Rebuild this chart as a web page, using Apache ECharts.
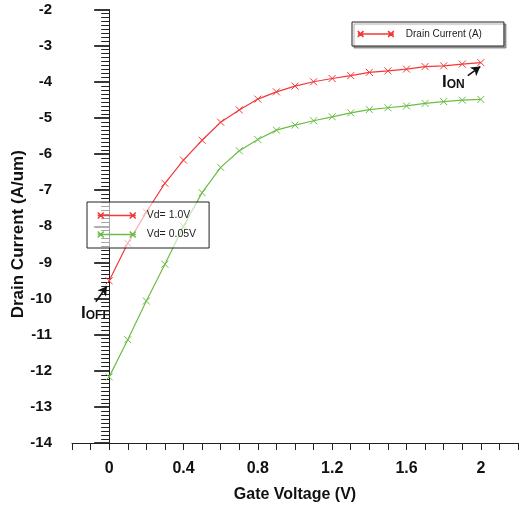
<!DOCTYPE html>
<html><head><meta charset="utf-8">
<script src="https://cdn.jsdelivr.net/npm/echarts@6/dist/echarts.min.js"></script>
<style>html,body{margin:0;padding:0;background:#fff}#c{width:525px;height:506px}</style>
</head><body><div id="c"></div>
<script>
const gateVoltage = [0,0.1,0.2,0.3,0.4,0.5,0.6,0.7,0.8,0.9,1.0,1.1,1.2,1.3,1.4,1.5,1.6,1.7,1.8,1.9,2.0];
const vd10 = [-9.51,-8.47,-7.61,-6.81,-6.17,-5.62,-5.12,-4.78,-4.48,-4.28,-4.12,-4.00,-3.91,-3.83,-3.74,-3.70,-3.65,-3.58,-3.56,-3.51,-3.47];
const vd005 = [-12.17,-11.14,-10.07,-9.05,-8.00,-7.07,-6.37,-5.91,-5.60,-5.34,-5.20,-5.08,-4.97,-4.86,-4.77,-4.72,-4.67,-4.60,-4.55,-4.51,-4.49];
const seriesNames = ['Vd= 1.0V','Vd= 0.05V'];
const legendTitle = 'Drain Current (A)';
const xLabels = ['0','0.4','0.8','1.2','1.6','2'];
const ioffArrow = [[-0.072,-10.09],[-0.012,-9.66]];
const ionArrow = [[1.93,-3.83],[1.997,-3.58]];

const RED = '#f2383a', GREEN = '#6cbd45';
const FONT = '"Liberation Sans", Arial, sans-serif';
const xSym = 'path://M0,0L10,10M10,0L0,10';
const legIcon = 'path://M0,3L38,3M0,0L6,6M0,6L6,0M32,0L38,6M32,6L38,0';

function pairs(ys){ return gateVoltage.map((x,i)=>[x, ys[i]]); }

const chart = echarts.init(document.getElementById('c'), null, {renderer:'canvas'});
chart.setOption({
  animation:false,
  textStyle:{fontFamily:FONT},
  grid:{left:72, top:9.5, right:7, bottom:63, containLabel:false, outerBoundsMode:'none'},
  xAxis:{
    type:'value', min:-0.2, max:2.2, interval:0.1,
    splitLine:{show:false},
    axisLine:{lineStyle:{color:'#222', width:1}},
    axisTick:{length:7, lineStyle:{color:'#222'}},
    axisLabel:{margin:18, fontSize:16, fontWeight:'bold', color:'#111', fontFamily:FONT,
      formatter:function(v){ const s = String(+v.toFixed(1)); return xLabels.indexOf(s)>=0 ? s : ''; }},
    name:'Gate Voltage (V)', nameLocation:'middle', nameGap:44, nameMoveOverlap:false,
    nameTextStyle:{fontSize:16, fontWeight:'bold', color:'#111', fontFamily:FONT}
  },
  yAxis:{
    type:'value', min:-14, max:-2, interval:1,
    splitLine:{show:false},
    axisLine:{show:true, lineStyle:{color:'#222', width:1}},
    axisTick:{show:true, length:15, lineStyle:{color:'#222', width:1.8}},
    minorTick:{show:true, splitNumber:9, length:8, lineStyle:{color:'#222'}},
    axisLabel:{margin:20, fontSize:15, fontWeight:'bold', color:'#111', fontFamily:FONT},
    name:'Drain Current (A/um)', nameLocation:'middle', nameGap:45, nameMoveOverlap:false,
    nameTextStyle:{fontSize:17, fontWeight:'bold', color:'#111', fontFamily:FONT, padding:[0,16,0,0]}
  },
  legend:[
    {
      left:352, top:22, orient:'horizontal', data:[seriesNames[0]], selectedMode:false,
      formatter:function(){ return legendTitle; },
      icon:legIcon, itemWidth:36, itemHeight:6,
      itemStyle:{borderWidth:1.6},
      padding:[7,22,7,5],
      textStyle:{fontSize:10, color:'#222', fontFamily:FONT, padding:[0,0,0,7]},
      backgroundColor:'#fff', borderColor:'#222', borderWidth:1,
      shadowColor:'rgba(0,0,0,0.35)', shadowOffsetX:2, shadowOffsetY:2, shadowBlur:1
    },
    {
      left:87, top:202, orient:'vertical', data:seriesNames, selectedMode:false,
      icon:legIcon, itemWidth:38, itemHeight:6, itemGap:8,
      itemStyle:{borderWidth:1.5},
      padding:[8,13,8,10],
      textStyle:{fontSize:10.5, color:'#222', fontFamily:FONT, padding:[0,0,0,6]},
      backgroundColor:'rgba(255,255,255,0.6)', borderColor:'#222', borderWidth:1
    }
  ],
  series:[
    {
      name:seriesNames[0], type:'line', data:pairs(vd10),
      symbol:xSym, symbolSize:7, showSymbol:true,
      lineStyle:{color:RED, width:1.2},
      itemStyle:{color:RED, borderColor:RED, borderWidth:1},
      markLine:{
        silent:true, symbol:['none','arrow'], symbolSize:[8,9],
        lineStyle:{color:'#111', width:1.5, type:'solid'},
        label:{show:false},
        data:[
          [{coord:ioffArrow[0]},{coord:ioffArrow[1]}],
          [{coord:ionArrow[0]},{coord:ionArrow[1]}]
        ]
      }
    },
    {
      name:seriesNames[1], type:'line', data:pairs(vd005),
      symbol:xSym, symbolSize:7, showSymbol:true,
      lineStyle:{color:GREEN, width:1.2},
      itemStyle:{color:GREEN, borderColor:GREEN, borderWidth:1}
    }
  ],
  graphic:[
    {type:'text', left:81, top:305, style:{
      text:'{a|I}{b|OFF}', fontFamily:FONT,
      rich:{a:{fontSize:17, fontWeight:'bold', fill:'#111', verticalAlign:'bottom', fontFamily:FONT},
            b:{fontSize:12, fontWeight:'bold', fill:'#111', verticalAlign:'bottom', fontFamily:FONT}}}},
    {type:'text', left:442, top:74, style:{
      text:'{a|I}{b|ON}', fontFamily:FONT,
      rich:{a:{fontSize:17, fontWeight:'bold', fill:'#111', verticalAlign:'bottom', fontFamily:FONT},
            b:{fontSize:12, fontWeight:'bold', fill:'#111', verticalAlign:'bottom', fontFamily:FONT}}}}
  ]
});
</script>
</body></html>
